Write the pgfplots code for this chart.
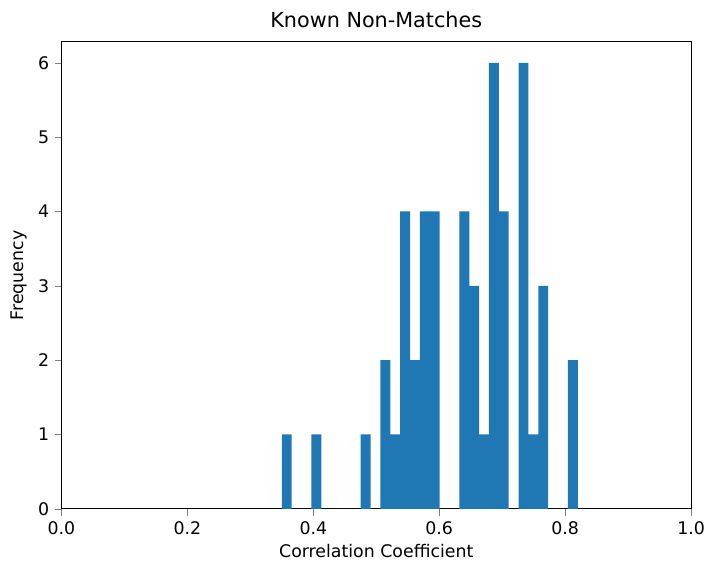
\documentclass[border={4pt 1pt 0pt 4pt}]{standalone}
\usepackage{fontspec}
\setmainfont{DejaVu Sans}
\usepackage{pgfplots}
\pgfplotsset{compat=1.18}
\definecolor{tabblue}{HTML}{1F77B4}

\begin{document}
\begin{tikzpicture}
  \begin{axis}[
    width=410pt, height=304pt, scale only axis,
    xmin=0, xmax=1, ymin=0, ymax=6.28,
    xtick={0,0.2,...,1.0},
    ytick={0,1,...,6},
    x tick label style={/pgf/number format/.cd, fixed, fixed zerofill, precision=1},
    /pgf/number format/assume math mode=true,
    tick align=outside, xtick pos=bottom, ytick pos=left,
    major tick length=4.5pt,
    tick label style={font=\fontsize{11.3}{13}\selectfont},
    label style={font=\fontsize{11.3}{13}\selectfont},
    title style={font=\fontsize{13.5}{16}\selectfont},
    title={Known Non-Matches},
    xlabel={Correlation Coefficient},
    ylabel={Frequency},
    axis line style={black, line width=0.7pt},
  ]
    % 30 bins from 0.350 to 0.820, 50 values in all
    \addplot[ybar interval, fill=tabblue, draw=none] coordinates {
      (0.3500,1) (0.3657,0) (0.3813,0) (0.3970,1) (0.4127,0)
      (0.4283,0) (0.4440,0) (0.4597,0) (0.4753,1) (0.4910,0)
      (0.5067,2) (0.5223,1) (0.5380,4) (0.5537,2) (0.5693,4)
      (0.5850,4) (0.6007,0) (0.6163,0) (0.6320,4) (0.6477,3)
      (0.6633,1) (0.6790,6) (0.6947,4) (0.7103,0) (0.7260,6)
      (0.7417,1) (0.7573,3) (0.7730,0) (0.7887,0) (0.8043,2)
      (0.8200,0)
    };
  \end{axis}
\end{tikzpicture}
\end{document}
